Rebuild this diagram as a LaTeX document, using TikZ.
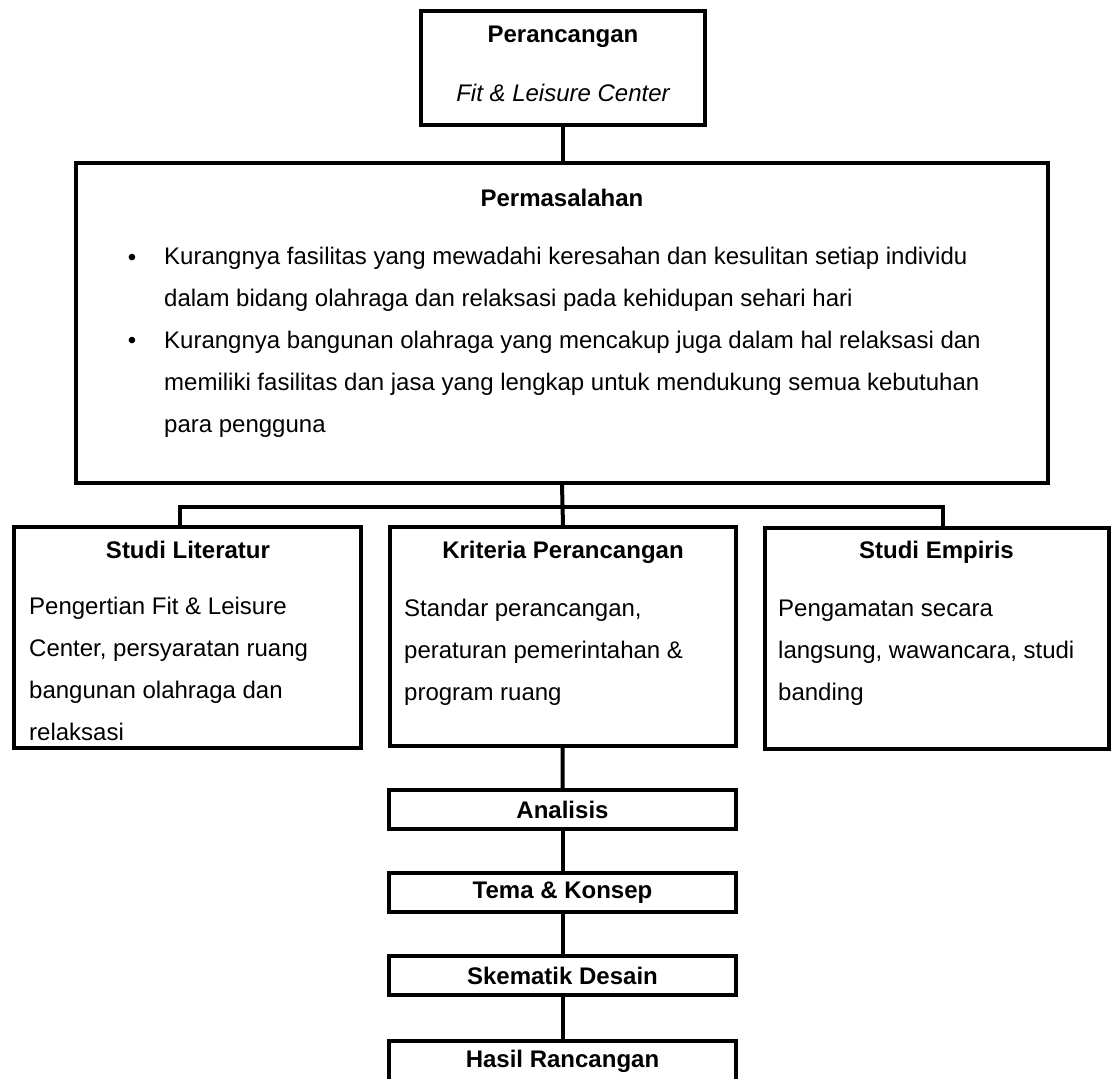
\documentclass[tikz,border=0pt]{standalone}
\usepackage{fontspec}
\setmainfont{Liberation Sans}
\usetikzlibrary{positioning}

\begin{document}
\begin{tikzpicture}
[x=1pt,y=-1pt,
every node/.style={font=\fontsize{24}{42}\selectfont,inner sep=0pt},
box/.style={rectangle,draw=black,line width=4pt,inner sep=0pt},
stage/.style={box,minimum width=347pt,minimum height=39pt,font=\fontsize{24}{42}\selectfont\bfseries},
head/.style={anchor=base,font=\fontsize{24}{42}\selectfont\bfseries},
body/.style={align=left,anchor=west},
link/.style={line width=4pt}]
\path[use as bounding box,fill=white] (0,0) rectangle (1112,1079);
% top box
\node at (563,68) [box,minimum width=284pt,minimum height=114pt] (design){};
\node at (563,42) [head] (designtitle){Perancangan};
\node at (563,101) [anchor=base,font=\fontsize{24}{42}\selectfont\itshape] (designname){Fit \& Leisure Center};
% problem box
\node at (562,323) [box,minimum width=972pt,minimum height=320pt] (problem){};
\node at (562,206) [head] (problemtitle){Permasalahan};
\node at (132,265) [anchor=base] (dot1){\textbullet};
\node at (132,348) [anchor=base] (dot2){\textbullet};
\node at (164,279) [body] (item1){Kurangnya fasilitas yang mewadahi keresahan dan kesulitan setiap individu\\
dalam bidang olahraga dan relaksasi pada kehidupan sehari hari};
\node at (164,384) [body] (item2){Kurangnya bangunan olahraga yang mencakup juga dalam hal relaksasi dan\\
memiliki fasilitas dan jasa yang lengkap untuk mendukung semua kebutuhan\\
para pengguna};
% three columns
\node at (187.5,637.5) [box,minimum width=347pt,minimum height=221pt] (literature){};
\node at (563,636.5) [box,minimum width=346pt,minimum height=219pt] (criteria){};
\node at (937,638) [box,minimum width=344pt,minimum height=221pt] (empirical){};
\node at (188,558) [head] (littitle){Studi Literatur};
\node at (563,558) [head] (crittitle){Kriteria Perancangan};
\node at (936.5,558) [head] (emptitle){Studi Empiris};
\node at (29,669) [body] (littext){Pengertian Fit \& Leisure\\
Center, persyaratan ruang\\
bangunan olahraga dan\\
relaksasi};
\node at (404,652) [body] (crittext){Standar perancangan,\\
peraturan pemerintahan \&\\
program ruang};
\node at (778,652.5) [body] (emptext){Pengamatan secara\\
langsung, wawancara, studi\\
banding};
% chain
\node at (562.5,809.5) [stage] (analysis){Analisis};
\node [stage,below=40pt of analysis] (theme){Tema \& Konsep};
\node [stage,below=40pt of theme] (sketch){Skematik Desain};
\node [stage,below=42pt of sketch,minimum height=60pt,text depth=24pt] (result){Hasil Rancangan};
% links
\coordinate (split) at (563,507);
\draw[link] (design.south) -- (design.south |- problem.north);
\draw[link] (problem.south) -- (criteria.north);
\draw[link] ([xshift=-7.5pt]literature.north) |- (split) -| ([xshift=6pt]empirical.north);
\foreach \a/\b in {criteria/analysis,analysis/theme,theme/sketch,sketch/result}
  \draw[link] (\a) -- (\b);
\end{tikzpicture}
\end{document}
